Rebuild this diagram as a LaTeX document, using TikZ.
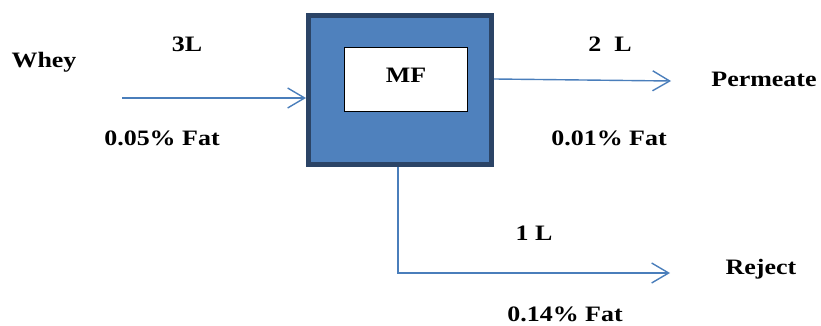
\documentclass[tikz,border=0pt]{standalone}
\usepackage{fontspec}
\setmainfont{Liberation Serif}[FakeStretch=1.18]
\usetikzlibrary{arrows.meta}
\definecolor{boxfill}{HTML}{4F81BD}
\definecolor{boxedge}{HTML}{2B4466}
\definecolor{flow}{HTML}{4A7EBB}
\tikzset{
  lbl/.style={anchor=base, inner sep=0pt, font=\fontsize{22}{26}\selectfont\bfseries},
  flowline/.style={draw=flow, line width=1.4pt, -{Straight Barb[length=17pt,width=20pt,line width=1.4pt]}}
}
\begin{document}
\begin{tikzpicture}[x=1pt,y=1pt]
\useasboundingbox (0,0) rectangle (821,326);
% outer unit
\node[draw=boxedge, fill=boxfill, line width=5pt, minimum width=183pt, minimum height=149pt, inner sep=0pt] (mf) at (400,236) {};
\node[draw=black, fill=white, line width=1pt, minimum width=123pt, minimum height=64pt, inner sep=0pt] (inner) at (405.5,246) {};
\node[lbl] (mft) at (406,243) {MF};
% coordinates
\coordinate (win) at (122,228);
\coordinate (pout) at (494,247);
\coordinate (pend) at (671,245);
\coordinate (rtop) at (398,159);
\coordinate (rcorner) at (398,53);
\coordinate (rend) at (670,53);
\draw[flowline] (win) -- (mf.west |- win);
\draw[flowline] (pout) -- (pend);
\draw[flowline] (rtop) -- (rcorner) -- (rend);
% labels
\node[lbl] (whey) at (44,258) {Whey};
\node[lbl] (l3) at (187,274) {3L};
\node[lbl] (f1) at (162,180) {0.05\% Fat};
\node[lbl] (l2) at (610,274) {2\ \ L};
\node[lbl] (perm) at (764,239) {Permeate};
\node[lbl] (f2) at (609,180) {0.01\% Fat};
\node[lbl] (l1) at (534,85) {1 L};
\node[lbl] (rej) at (761,51) {Reject};
\node[lbl] (f3) at (565,4) {0.14\% Fat};
\end{tikzpicture}
\end{document}
